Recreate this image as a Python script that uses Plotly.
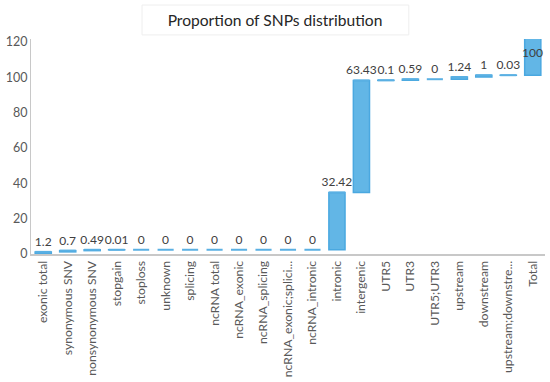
import numpy as np
import plotly.graph_objects as go

categories = ["exonic total", "synonymous SNV", "nonsynonymous SNV", "stopgain", "stoploss",
              "unknown", "splicing", "ncRNA total", "ncRNA_exonic", "ncRNA_splicing",
              "ncRNA_exonic;splicing", "ncRNA_intronic", "intronic", "intergenic", "UTR5",
              "UTR3", "UTR5;UTR3", "upstream", "downstream", "upstream;downstream", "Total"]
tick_labels = ["exonic total", "synonymous SNV", "nonsynonymous SNV", "stopgain", "stoploss",
               "unknown", "splicing", "ncRNA total", "ncRNA_exonic", "ncRNA_splicing",
               "ncRNA_exonic;splici...", "ncRNA_intronic", "intronic", "intergenic", "UTR5",
               "UTR3", "UTR5;UTR3", "upstream", "downstream", "upstream;downstre...", "Total"]
values = [1.2, 0.7, 0.49, 0.01, 0, 0, 0, 0, 0, 0, 0, 0, 32.42, 63.43, 0.1, 0.59, 0, 1.24, 1, 0.03, 100]
labels = ["1.2", "0.7", "0.49", "0.01", "0", "0", "0", "0", "0", "0", "0", "0", "32.42", "63.43",
          "0.1", "0.59", "0", "1.24", "1", "0.03", "100"]

y_max = 121.7
bar_color = "#62b6e6"
font_family = "Lato, Open Sans, sans-serif"

# last bar (Total) is clipped by the axis; its label is drawn as an annotation at the top
bar_text = labels[:-1] + [""]

fig = go.Figure(go.Waterfall(
    x=categories,
    y=values,
    measure=["relative"] * len(values),
    text=bar_text,
    textposition="outside",
    textfont=dict(family=font_family, size=12, color="#404040"),
    increasing=dict(marker=dict(color=bar_color, line=dict(color="#4aa8e0", width=1.5))),
    decreasing=dict(marker=dict(color=bar_color, line=dict(color="#4aa8e0", width=1.5))),
    connector=dict(visible=False),
    cliponaxis=True,
    width=0.66,
    hoverinfo="skip",
))

# thin caps at the top of each step so that zero / tiny steps stay visible (as in the original)
tops = np.cumsum(values)
fig.add_trace(go.Scatter(
    x=categories[:-1], y=tops[:-1], mode="markers",
    marker=dict(symbol="line-ew", size=11.5, line=dict(color="#5ab0e3", width=2)),
    hoverinfo="skip", cliponaxis=True,
))

fig.add_annotation(x=categories[-1], y=y_max, text=labels[-1], showarrow=False,
                   yanchor="top", yshift=-4,
                   font=dict(family=font_family, size=12, color="#404040"))

fig.update_layout(
    width=550, height=382,
    margin=dict(l=31, r=5, t=39, b=128, autoexpand=False),
    paper_bgcolor="white", plot_bgcolor="white",
    showlegend=False,
    uniformtext=dict(minsize=12, mode="show"),
    title=dict(text="Proportion of SNPs distribution", x=0.5, xanchor="center",
               y=0.946, yanchor="middle",
               font=dict(family=font_family, size=15.6, color="#262626")),
    font=dict(family=font_family, size=11, color="#595959"),
    shapes=[dict(type="rect", xref="paper", yref="paper", x0=0.216, x1=0.735, y0=1.019,
                 y1=1.158, line=dict(color="#eeeeee", width=1), fillcolor="rgba(0,0,0,0)",
                 layer="below")],
)
fig.update_xaxes(
    range=[-0.5, len(categories) - 0.5],
    tickmode="array", tickvals=categories, ticktext=tick_labels, tickangle=-90,
    showline=True, linecolor="#c8c8c8", linewidth=2, showgrid=False, ticks="",
    tickfont=dict(size=12.2, color="#595959"), automargin=False,
)
fig.update_yaxes(
    range=[0, y_max], tickvals=[0, 20, 40, 60, 80, 100, 120],
    showline=True, linecolor="#c8c8c8", linewidth=1, showgrid=False, zeroline=False, ticks="",
    tickfont=dict(size=12.5, color="#595959"), automargin=False,
)

fig.write_html("out.html", config={"displayModeBar": False},
               post_script="document.body.style.margin='0';")
